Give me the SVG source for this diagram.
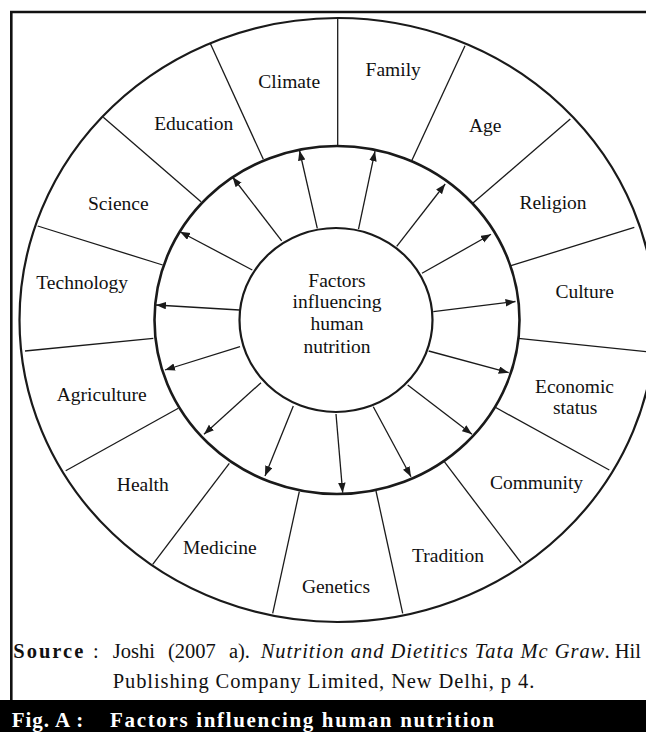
<svg xmlns="http://www.w3.org/2000/svg" width="646" height="732" viewBox="0 0 646 732">
<style>
.lbl{font-family:"Liberation Serif","Times New Roman",serif;font-size:19.5px;fill:#111;text-anchor:middle}
.ring{fill:none;stroke:#1a1a1a}
.div{stroke:#1a1a1a;stroke-width:1.3;fill:none}
.arr{stroke:#1a1a1a;stroke-width:1.3;fill:none;marker-end:url(#ah)}
.src{font-family:"Liberation Serif","Times New Roman",serif;font-size:20.5px;fill:#111}
.cap{font-family:"Liberation Serif","Times New Roman",serif;font-size:21px;font-weight:bold;fill:#fff}
</style>
<defs>
<marker id="ah" markerUnits="userSpaceOnUse" markerWidth="11" markerHeight="8" refX="10" refY="3.75" orient="auto">
<path d="M0,0 L10,3.75 L0,7.5 z" fill="#1a1a1a"/>
</marker>
</defs>
<rect width="646" height="732" fill="#fff"/>
<path d="M660,12 H11.3 V700" fill="none" stroke="#111" stroke-width="2.6"/>
<g id="rings">
<ellipse class="ring" cx="337.5" cy="320" rx="318" ry="302" stroke-width="2.2"/>
<ellipse class="ring" cx="337" cy="320" rx="182.5" ry="174" stroke-width="2.6"/>
<line class="div" x1="337.7" y1="18.5" x2="337.7" y2="146"/>
<line class="div" x1="210" y1="42.7" x2="263.3" y2="159.3"/>
<line class="div" x1="103.3" y1="117.3" x2="201" y2="201.7"/>
<line class="div" x1="37.7" y1="226" x2="162.7" y2="265"/>
<line class="div" x1="25" y1="351" x2="153.3" y2="338.3"/>
<line class="div" x1="65.7" y1="470.7" x2="178.3" y2="408.3"/>
<line class="div" x1="152.7" y1="564.3" x2="229.3" y2="463.3"/>
<line class="div" x1="272.7" y1="613.3" x2="299.3" y2="491.7"/>
<line class="div" x1="402.7" y1="613.3" x2="376" y2="491"/>
<line class="div" x1="521" y1="562.7" x2="444.3" y2="461.7"/>
<line class="div" x1="609.3" y1="470" x2="495.3" y2="407.3"/>
<line class="div" x1="654" y1="352.5" x2="518.3" y2="338.3"/>
<line class="div" x1="634.3" y1="227.3" x2="511" y2="265.7"/>
<line class="div" x1="570.3" y1="119" x2="472.7" y2="203.3"/>
<line class="div" x1="465" y1="45.7" x2="411.7" y2="160.7"/>
</g>
<g id="center">
<ellipse class="ring" cx="336" cy="320" rx="96.5" ry="92" stroke-width="2.2" fill="#fff"/>
<text class="lbl" x="337" y="286.7">Factors</text>
<text class="lbl" x="337" y="308.3">influencing</text>
<text class="lbl" x="337" y="330">human</text>
<text class="lbl" x="337" y="352.7">nutrition</text>
</g>
<g id="connectors">
<line class="arr" x1="317.3" y1="228.3" x2="299.5" y2="150.5"/>
<line class="arr" x1="358.5" y1="229.2" x2="375" y2="151.2"/>
<line class="arr" x1="396.7" y1="246.3" x2="445.2" y2="184"/>
<line class="arr" x1="422" y1="273.3" x2="491" y2="234.3"/>
<line class="arr" x1="433.3" y1="311.7" x2="515.5" y2="301.5"/>
<line class="arr" x1="428.7" y1="351" x2="508.7" y2="372.7"/>
<line class="arr" x1="407.7" y1="385" x2="472" y2="434.3"/>
<line class="arr" x1="373.3" y1="406.7" x2="411" y2="476.7"/>
<line class="arr" x1="336" y1="414" x2="342.7" y2="492.7"/>
<line class="arr" x1="293.3" y1="406" x2="265" y2="476"/>
<line class="arr" x1="261" y1="382.7" x2="204" y2="434.3"/>
<line class="arr" x1="240" y1="346.7" x2="165" y2="370"/>
<line class="arr" x1="239.3" y1="310" x2="156" y2="305"/>
<line class="arr" x1="252.3" y1="270" x2="180" y2="231.7"/>
<line class="arr" x1="281.7" y1="240.8" x2="232.5" y2="177"/>
</g>
<g id="climate"><text class="lbl" x="289.2" y="88.3">Climate</text></g>
<g id="family"><text class="lbl" x="393.2" y="76">Family</text></g>
<g id="age"><text class="lbl" x="485.2" y="131.7">Age</text></g>
<g id="religion"><text class="lbl" x="553" y="209.3">Religion</text></g>
<g id="culture"><text class="lbl" x="584.7" y="298">Culture</text></g>
<g id="economic"><text class="lbl" x="574.5" y="393.3">Economic</text><text class="lbl" x="575.2" y="414.3">status</text></g>
<g id="community"><text class="lbl" x="536.5" y="489.3">Community</text></g>
<g id="tradition"><text class="lbl" x="448" y="561.7">Tradition</text></g>
<g id="genetics"><text class="lbl" x="336" y="592.7">Genetics</text></g>
<g id="medicine"><text class="lbl" x="219.8" y="554">Medicine</text></g>
<g id="health"><text class="lbl" x="142.8" y="490.7">Health</text></g>
<g id="agriculture"><text class="lbl" x="101.7" y="401">Agriculture</text></g>
<g id="technology"><text class="lbl" x="82.2" y="289.3">Technology</text></g>
<g id="science"><text class="lbl" x="118.3" y="210">Science</text></g>
<g id="education"><text class="lbl" x="193.7" y="130">Education</text></g>
<g id="source">
<text class="src" x="13.3" y="658.3" font-weight="bold" textLength="70" lengthAdjust="spacing">Source</text>
<text class="src" x="93" y="658.3">:</text>
<text class="src" x="112.7" y="658.3" word-spacing="8">Joshi (2007 a).</text>
<text class="src" x="260.7" y="658.3" font-style="italic" textLength="343.6" lengthAdjust="spacing">Nutrition and Dietitics Tata Mc Graw</text>
<text class="src" x="604.5" y="658.3">. Hil</text>
<text class="src" x="112.7" y="688.3" textLength="421.6" lengthAdjust="spacing">Publishing Company Limited, New Delhi, p 4.</text>
</g>
<g id="caption">
<rect x="0" y="700" width="646" height="32" fill="#000"/>
<text class="cap" x="11.7" y="726.7" textLength="71.6" lengthAdjust="spacing">Fig. A :</text>
<text class="cap" x="110" y="726.7" textLength="384" lengthAdjust="spacing">Factors influencing human nutrition</text>
</g>
</svg>
